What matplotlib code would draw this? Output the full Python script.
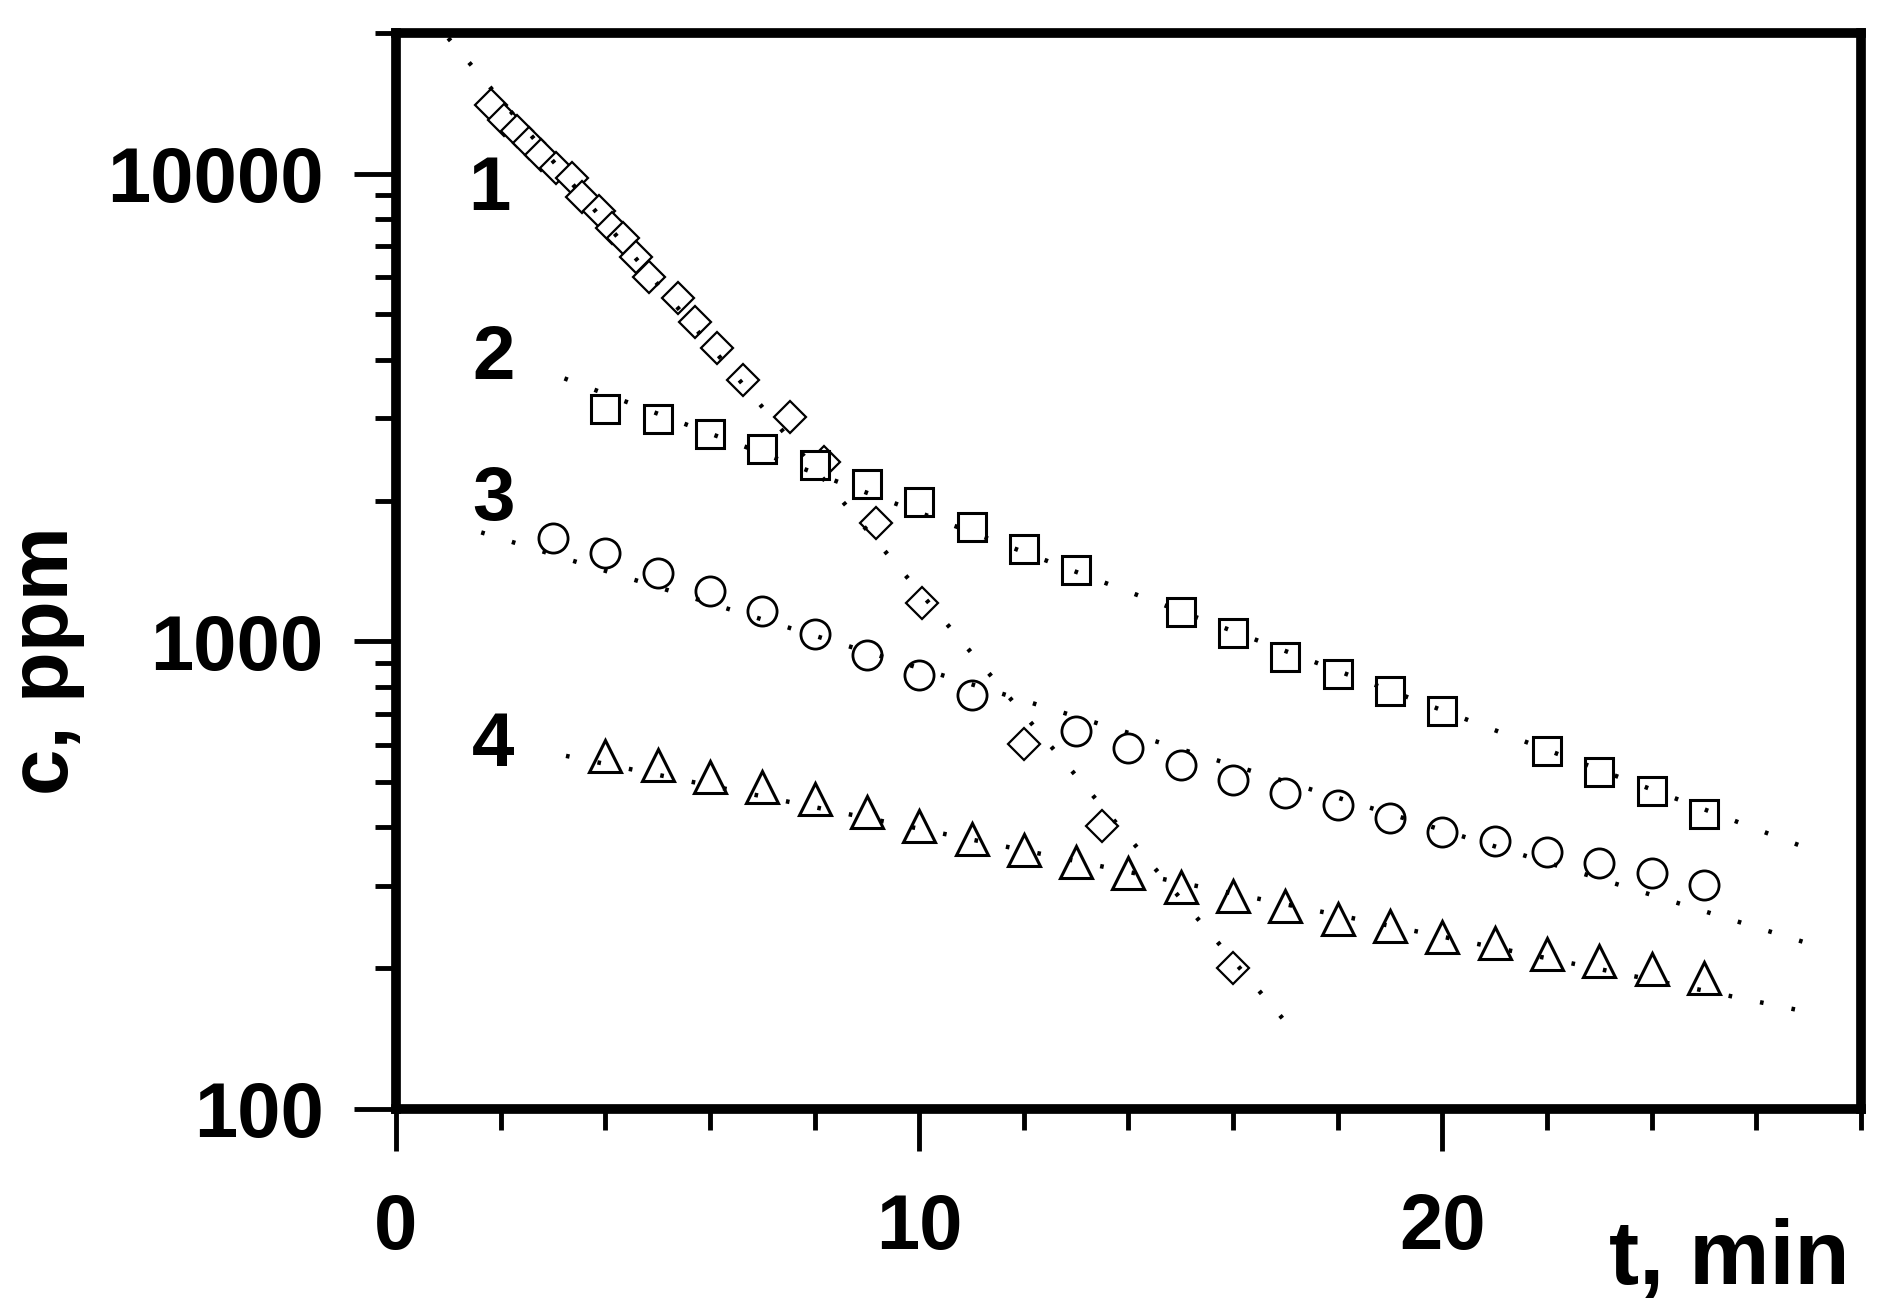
import matplotlib

matplotlib.use("Agg")
import matplotlib.pyplot as plt
from matplotlib import ticker

plt.rcParams.update(
    {
        "font.family": ["Liberation Sans", "DejaVu Sans"],
        "font.weight": "bold",
        "lines.scale_dashes": False,
    }
)

# curve 1 - diamonds
t1 = [1.82, 2.07, 2.32, 2.55, 2.78, 3.06, 3.37, 3.56, 3.88, 4.13, 4.33, 4.58,
      4.83, 5.40, 5.72, 6.14, 6.63, 7.53, 8.19, 9.17, 10.05, 12.0, 13.5, 16.0]
c1 = [14050, 13050, 12370, 11660, 10940, 10310, 9770, 8900, 8340, 7670, 7270, 6630,
      6010, 5420, 4830, 4240, 3620, 3020, 2420, 1795, 1205, 603, 402, 200]

# curve 2 - squares
t2 = [4, 5, 6, 7, 8, 9, 10, 11, 12, 13, 15, 16, 17, 18, 19, 20, 22, 23, 24, 25]
c2 = [3135, 2986, 2780, 2575, 2383, 2167, 1982, 1760, 1578, 1420,
      1153, 1042, 925, 851, 783, 708, 583, 526, 478, 427]

# curve 3 - circles
t3 = [3, 4, 5, 6, 7, 8, 9, 10, 11, 13, 14, 15, 16, 17, 18, 19, 20, 21, 22, 23, 24, 25]
c3 = [1663, 1545, 1401, 1279, 1159, 1039, 933, 846, 767, 642, 590, 544,
      506, 475, 447, 419, 392, 375, 355, 335, 319, 301]

# curve 4 - triangles
t4 = [4, 5, 6, 7, 8, 9, 10, 11, 12, 13, 14, 15, 16, 17, 18, 19, 20, 21, 22, 23, 24, 25]
c4 = [569, 544, 514, 487, 460, 431, 403, 378, 358, 337, 320, 298,
      285, 271, 255, 246, 233, 226, 214, 207, 199, 191]

# dotted exponential fits, read as end points
fit1_t, fit1_c = [1.0, 17.1], [19500, 149]
fit2_t, fit2_c = [3.22, 27.0], [3650, 360]
fit3_t, fit3_c = [1.63, 27.1], [1710, 224]
fit4_t, fit4_c = [3.25, 27.0], [569, 161]

curve_labels = ["1", "2", "3", "4"]
label_t = [1.79, 1.86, 1.86, 1.86]
label_c = [9200, 4000, 2005, 596]

x_ticks = [0, 10, 20]
y_ticks = [100, 1000, 10000]
y_tick_labels = ["100", "1000", "10000"]


def main():
    fig = plt.figure(figsize=(18.99, 13.13), dpi=100)
    ax = fig.add_axes([0.2085, 0.1554, 0.7715, 0.8195])
    ax.set_yscale("log")
    ax.set_xlim(0, 28)
    ax.set_ylim(100, 20000)

    mk = dict(linestyle="none", mfc="white", mec="black", zorder=3)
    ax.plot(t1, c1, marker="D", ms=16, mew=1.6, **mk)
    ax.plot(t2, c2, marker="s", ms=20, mew=2.2, **mk)
    ax.plot(t3, c3, marker="o", ms=21, mew=2.0, **mk)
    ax.plot(t4, c4, marker="^", ms=23, mew=2.2, **mk)

    dot = dict(color="black", lw=3.2, linestyle=(0, (2.6, 20.5)), zorder=4)
    for ft, fc in [(fit1_t, fit1_c), (fit2_t, fit2_c), (fit3_t, fit3_c), (fit4_t, fit4_c)]:
        ax.plot(ft, fc, **dot)

    for lab, lt, lc in zip(curve_labels, label_t, label_c):
        ax.text(lt, lc, lab, fontsize=55, ha="center", va="center")

    ax.set_xticks(x_ticks)
    ax.xaxis.set_minor_locator(ticker.MultipleLocator(2))
    ax.set_yticks(y_ticks, labels=y_tick_labels)
    ax.yaxis.set_minor_locator(ticker.LogLocator(subs=range(2, 10)))
    ax.yaxis.set_minor_formatter(ticker.NullFormatter())

    for spine in ax.spines.values():
        spine.set_linewidth(7)
    ax.tick_params(which="both", direction="out", width=3.5, labelsize=56)
    ax.tick_params(which="major", length=30)
    ax.tick_params(which="minor", length=15)
    ax.tick_params(axis="x", pad=30)
    ax.tick_params(axis="y", pad=22)

    fig.text(0.974, 0.022, "t, min", fontsize=65, ha="right", va="baseline")
    fig.text(0.024, 0.497, "c, ppm", fontsize=60, rotation=90, ha="center", va="center")

    fig.savefig("out.png", dpi=100)
    plt.close(fig)


if __name__ == "__main__":
    main()
